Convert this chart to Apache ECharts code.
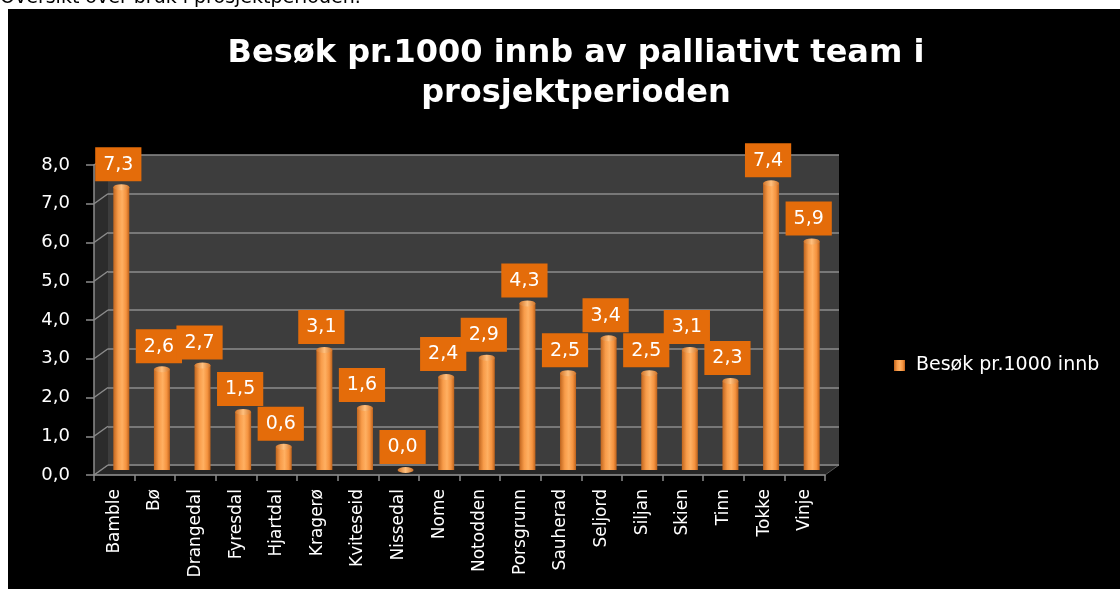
<!DOCTYPE html>
<html><head><meta charset="utf-8">
<script src="https://cdn.jsdelivr.net/npm/echarts@6/dist/echarts.min.js"></script>
<style>html,body{margin:0;padding:0;background:#fff}#c{width:1120px;height:589px}</style>
</head><body><div id="c"></div>
<script>
const categories = ['Bamble','Bø','Drangedal','Fyresdal','Hjartdal','Kragerø','Kviteseid','Nissedal','Nome','Notodden','Porsgrunn','Sauherad','Seljord','Siljan','Skien','Tinn','Tokke','Vinje'];
const values = [7.3, 2.6, 2.7, 1.5, 0.6, 3.1, 1.6, 0.0, 2.4, 2.9, 4.3, 2.5, 3.4, 2.5, 3.1, 2.3, 7.4, 5.9];
const yMin = 0, yMax = 8, yStep = 1;
const seriesName = 'Besøk pr.1000 innb';
const titleText = 'Besøk pr.1000 innb av palliativt team i\nprosjektperioden';
const pageNote = 'Oversikt over bruk i prosjektperioden.';

const FONT = '"DejaVu Sans", "Open Sans", sans-serif';
const fmt = v => Number(v).toFixed(1).replace('.', ',');

// layout (front axis plane, bar plane, back wall plane)
const W = 731, H = 310;
const front = {left: 94, top: 165};
const mid = {left: 101, top: 160};
const back = {left: 108, top: 155};

const chart = echarts.init(document.getElementById('c'), null, {renderer: 'canvas'});

const yF = v => front.top + H - (v - yMin) / (yMax - yMin) * H;
const yB = v => back.top + H - (v - yMin) / (yMax - yMin) * H;
const deco = [];
deco.push({type: 'rect', shape: {x: 8, y: 9, width: 1112, height: 580}, style: {fill: '#000'}, z: -10});
deco.push({type: 'text', left: 0, top: -11, style: {text: pageNote, fill: '#000', font: '19px ' + FONT}, z: -5});
// side wall
deco.push({type: 'polygon', shape: {points: [[front.left, yF(yMax)], [back.left, yB(yMax)], [back.left, yB(yMin)], [front.left, yF(yMin)]]}, style: {fill: '#2c2c2c'}, z: -4});
// floor
deco.push({type: 'polygon', shape: {points: [[front.left, yF(yMin)], [back.left, yB(yMin)], [back.left + W, yB(yMin)], [front.left + W, yF(yMin)]]}, style: {fill: '#262626', stroke: '#555', lineWidth: 1}, z: -4});
for (let v = yMin; v <= yMax; v += yStep) {
  deco.push({type: 'line', shape: {x1: front.left, y1: yF(v), x2: back.left, y2: yB(v)}, style: {stroke: '#8c8c8c', lineWidth: 1.5}, z: -3});
}

const barGrad = new echarts.graphic.LinearGradient(0, 0, 1, 0, [
  {offset: 0, color: '#c0651e'},
  {offset: 0.3, color: '#f89c4a'},
  {offset: 0.55, color: '#ffb062'},
  {offset: 0.8, color: '#f5933f'},
  {offset: 1, color: '#bd621c'}
]);

chart.setOption({
  backgroundColor: '#fff',
  animation: false,
  graphic: deco,
  title: {
    text: titleText, left: 571, top: 29, textAlign: 'center',
    textStyle: {color: '#fff', fontFamily: FONT, fontWeight: 'bold', fontSize: 32, lineHeight: 40}
  },
  legend: {
    data: [seriesName], left: 889, top: 351, icon: 'rect', itemWidth: 11, itemHeight: 11,
    textStyle: {color: '#fff', fontFamily: FONT, fontSize: 19, padding: [0, 0, 0, 6]}
  },
  grid: [
    {left: back.left, top: back.top, width: W, height: H, show: true, backgroundColor: '#3d3d3d', borderWidth: 0},
    {left: front.left, top: front.top, width: W, height: H},
    {left: mid.left, top: mid.top, width: W, height: H}
  ],
  xAxis: [
    {type: 'category', gridIndex: 0, data: categories, show: false},
    {type: 'category', gridIndex: 1, data: categories,
      axisLine: {show: true, lineStyle: {color: '#8c8c8c', width: 1.5}},
      axisTick: {show: true, length: 6, lineStyle: {color: '#8c8c8c', width: 1.5}},
      axisLabel: {rotate: 90, color: '#fff', fontFamily: FONT, fontSize: 17, margin: 14, interval: 0}},
    {type: 'category', gridIndex: 2, data: categories, show: false}
  ],
  yAxis: [
    {type: 'value', gridIndex: 0, min: yMin, max: yMax, interval: yStep,
      axisLine: {show: false}, axisTick: {show: false}, axisLabel: {show: false},
      splitLine: {show: true, lineStyle: {color: '#8c8c8c', width: 1.5}}},
    {type: 'value', gridIndex: 1, min: yMin, max: yMax, interval: yStep,
      axisLine: {show: true, lineStyle: {color: '#8c8c8c', width: 1.5}},
      axisTick: {show: true, length: 8, lineStyle: {color: '#8c8c8c', width: 1.5}},
      axisLabel: {color: '#fff', fontFamily: FONT, fontSize: 18, margin: 24, formatter: fmt},
      splitLine: {show: false}},
    {type: 'value', gridIndex: 2, min: yMin, max: yMax, interval: yStep, show: false, splitLine: {show: false}}
  ],
  series: [
    {
      name: seriesName, type: 'bar', xAxisIndex: 2, yAxisIndex: 2, data: values, barWidth: 16,
      itemStyle: {color: barGrad},
      label: {
        show: true, position: 'top', distance: 6, offset: [-3, 0], formatter: p => fmt(p.value),
        color: '#fff', fontFamily: FONT, fontSize: 19, backgroundColor: '#e46c0a', padding: [8, 8, 7, 8]
      },
      z: 3
    },
    {
      name: 'cap', type: 'pictorialBar', xAxisIndex: 2, yAxisIndex: 2, data: values,
      symbol: 'circle', symbolSize: [16, 6], symbolPosition: 'end', symbolOffset: [0, '-50%'],
      itemStyle: {color: new echarts.graphic.LinearGradient(0, 0, 1, 0, [
        {offset: 0, color: '#d27428'}, {offset: 0.5, color: '#ffc07e'}, {offset: 1, color: '#d27428'}])},
      label: {show: false}, z: 4, silent: true
    }
  ]
});
</script></body></html>
